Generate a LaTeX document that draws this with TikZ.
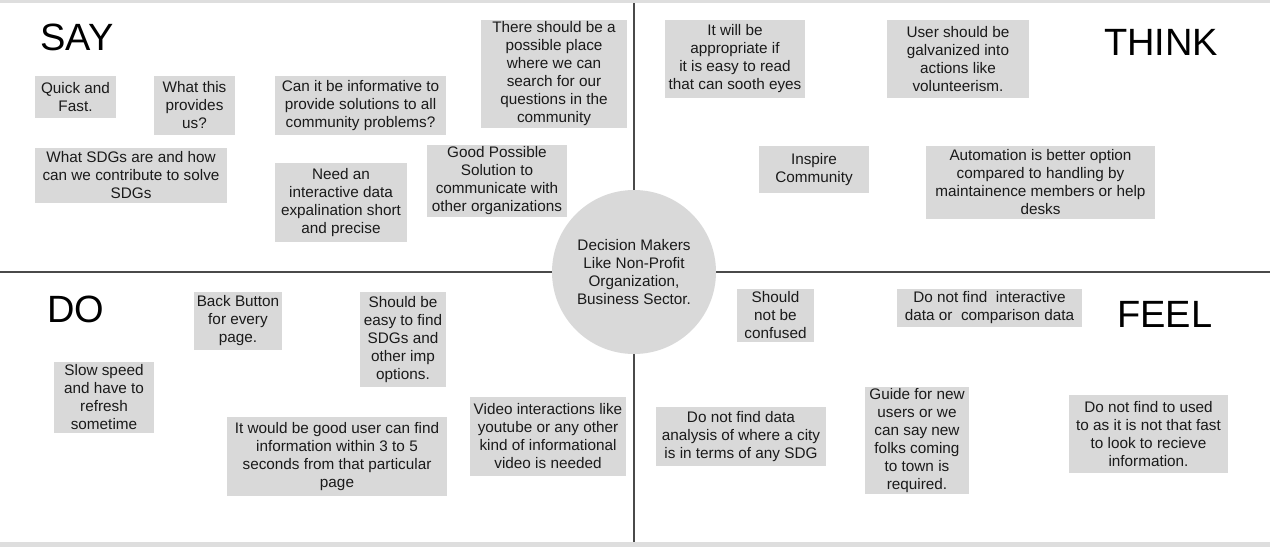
\documentclass[tikz,border=0pt]{standalone}
\usepackage{fontspec}
\setmainfont{Liberation Sans}
\definecolor{notefill}{HTML}{D9D9D9}
\definecolor{axisline}{HTML}{4A4A4A}
\definecolor{bandgray}{HTML}{DEDEDE}
\definecolor{inktext}{HTML}{1A1A1A}
\begin{document}
\begin{tikzpicture}[x=1pt,y=-1pt,
  stickynote/.style={fill=notefill, inner sep=0pt, align=center, text=inktext,
    font=\fontsize{15.3}{18}\selectfont},
  quadtitle/.style={anchor=base west, inner sep=0pt, text=black,
    font=\fontsize{38}{40}\selectfont},
  hub/.style={circle, fill=notefill, minimum size=164pt, inner sep=0pt, align=center,
    text=inktext, font=\fontsize{15.3}{18}\selectfont}]
\useasboundingbox (0,0) rectangle (1270,547);

% top and bottom bands
\fill[bandgray] (0,0) rectangle (1270,3);
\fill[bandgray] (0,542) rectangle (1270,547);

% quadrant axes
\draw[axisline, line width=1.4pt] (634,3) -- (634,542);
\draw[axisline, line width=1.4pt] (0,272) -- (1270,272);

% centre
\node[hub] (hub) at (634,272) {Decision Makers\\Like Non-Profit\\Organization,\\Business Sector.};

% quadrant titles
\node[quadtitle] (say) at (40,50) {SAY};
\node[quadtitle] (think) at (1104,55) {THINK};
\node[quadtitle] (do) at (47,322) {DO};
\node[quadtitle] (feel) at (1117,327) {FEEL};

% SAY
\node[stickynote, minimum width=81pt, minimum height=42pt] (quick) at (75.5,97) {Quick and\\Fast.};
\node[stickynote, minimum width=81pt, minimum height=59pt] (whatthis) at (194.5,105.5) {What this\\provides\\us?};
\node[stickynote, minimum width=171pt, minimum height=59pt] (informative) at (360.5,105.5) {Can it be informative to\\provide solutions to all\\community problems?};
\node[stickynote, minimum width=146pt, minimum height=108pt] (searchplace) at (554,74) {There should be a\\possible place\\where we can\\search for our\\questions in the\\community};
\node[stickynote, minimum width=192pt, minimum height=55pt] (sdgs) at (131,175.5) {What SDGs are and how\\can we contribute to solve\\SDGs};
\node[stickynote, minimum width=132pt, minimum height=79pt] (interactive) at (341,202.5) {Need an\\interactive data\\expalination short\\and precise};
\node[stickynote, minimum width=140pt, minimum height=72pt] (goodsolution) at (497,181) {Good Possible\\Solution to\\communicate with\\other organizations};

% THINK
\node[stickynote, minimum width=140pt, minimum height=78pt] (appropriate) at (735,59) {It will be\\appropriate if\\it is easy to read\\that can sooth eyes};
\node[stickynote, minimum width=142pt, minimum height=78pt] (galvanized) at (958,59) {User should be\\galvanized into\\actions like\\volunteerism.};
\node[stickynote, minimum width=110pt, minimum height=47pt] (inspire) at (814,169.5) {Inspire\\Community};
\node[stickynote, minimum width=229pt, minimum height=73pt] (automation) at (1040.5,182.5) {Automation is better option\\compared to handling by\\maintainence members or help\\desks};

% DO
\node[stickynote, minimum width=88pt, minimum height=58pt] (backbutton) at (238,321) {Back Button\\for every\\page.};
\node[stickynote, minimum width=86pt, minimum height=95pt] (easyfind) at (403,339.5) {Should be\\easy to find\\SDGs and\\other imp\\options.};
\node[stickynote, minimum width=100pt, minimum height=71pt] (slowspeed) at (104,397.5) {Slow speed\\and have to\\refresh\\sometime};
\node[stickynote, minimum width=220pt, minimum height=79pt] (goodfind) at (337,456.5) {It would be good user can find\\information within 3 to 5\\seconds from that particular\\page};
\node[stickynote, minimum width=156pt, minimum height=79pt] (video) at (548,436.5) {Video interactions like\\youtube or any other\\kind of informational\\video is needed};

% FEEL
\node[stickynote, minimum width=77pt, minimum height=53pt] (confused) at (775.5,315.5) {Should\\not be\\confused};
\node[stickynote, minimum width=185pt, minimum height=38pt] (comparison) at (989.5,308) {Do not find\ \ interactive\\data or\ \ comparison data};
\node[stickynote, minimum width=170pt, minimum height=59pt] (analysis) at (741,436.5) {Do not find data\\analysis of where a city\\is in terms of any SDG};
\node[stickynote, minimum width=104pt, minimum height=107pt] (guide) at (917,440.5) {Guide for new\\users or we\\can say new\\folks coming\\to town is\\required.};
\node[stickynote, minimum width=159pt, minimum height=78pt] (recieve) at (1148.5,434) {Do not find to used\\to as it is not that fast\\to look to recieve\\information.};
\end{tikzpicture}
\end{document}
